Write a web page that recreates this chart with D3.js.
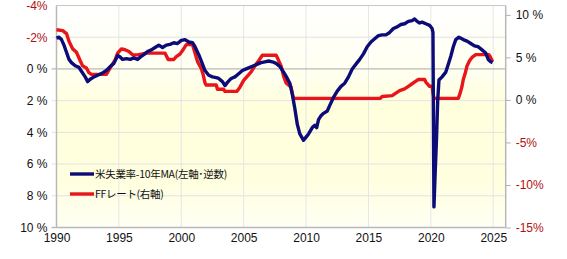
<!DOCTYPE html>
<html><head><meta charset="utf-8">
<script src="https://cdn.jsdelivr.net/npm/d3@7"></script>
<style>body{margin:0;background:#fff}svg{display:block}</style>
</head><body>
<svg id="c" width="567" height="259"></svg>
<script>
// Unemployment rate minus 10-year MA (left axis, inverted)
const unempYears = [1990.0,1990.2,1990.4,1990.6,1990.8,1991.0,1991.2,1991.5,1991.8,1992.0,1992.3,1992.5,1992.7,1993.0,1993.3,1993.6,1994.0,1994.3,1994.6,1994.9,1995.1,1995.3,1995.6,1995.9,1996.2,1996.5,1996.8,1997.0,1997.3,1997.6,1997.9,1998.2,1998.5,1998.8,1999.1,1999.4,1999.7,2000.0,2000.3,2000.6,2000.9,2001.1,2001.4,2001.7,2001.9,2002.2,2002.5,2002.8,2003.0,2003.3,2003.5,2003.7,2004.0,2004.3,2004.6,2004.9,2005.2,2005.5,2005.8,2006.1,2006.4,2006.7,2007.0,2007.3,2007.6,2007.9,2008.2,2008.5,2008.7,2008.9,2009.1,2009.3,2009.5,2009.8,2010.0,2010.2,2010.5,2010.7,2010.85,2011.0,2011.2,2011.4,2011.7,2011.9,2012.2,2012.5,2012.8,2013.1,2013.4,2013.7,2014.0,2014.3,2014.6,2014.9,2015.2,2015.5,2015.8,2016.1,2016.4,2016.7,2017.0,2017.3,2017.6,2017.9,2018.2,2018.5,2018.7,2018.9,2019.1,2019.3,2019.6,2019.9,2020.1,2020.17,2020.25,2020.35,2020.45,2020.55,2020.65,2020.9,2021.2,2021.4,2021.6,2021.8,2022.0,2022.25,2022.6,2022.9,2023.2,2023.5,2023.8,2024.1,2024.4,2024.6,2024.8,2024.95];
const unempGap = [-1.95,-2.0,-1.85,-1.5,-1.05,-0.6,-0.4,-0.2,-0.1,0.15,0.5,0.8,0.65,0.5,0.4,0.3,0.1,-0.15,-0.35,-0.85,-0.75,-0.6,-0.65,-0.6,-0.7,-0.6,-0.8,-0.9,-1.1,-1.2,-1.35,-1.5,-1.35,-1.5,-1.55,-1.65,-1.6,-1.8,-1.85,-1.7,-1.65,-1.4,-0.9,-0.3,0.1,0.4,0.5,0.55,0.6,0.8,1.05,0.85,0.6,0.5,0.3,0.1,0.0,-0.1,-0.2,-0.3,-0.4,-0.45,-0.5,-0.45,-0.35,-0.15,0.2,0.6,0.9,1.6,2.5,3.5,4.1,4.5,4.3,4.1,3.7,3.55,3.7,3.2,2.95,2.8,2.65,2.3,1.8,1.4,1.1,0.9,0.5,0.0,-0.3,-0.6,-0.95,-1.4,-1.7,-1.9,-2.1,-2.15,-2.15,-2.3,-2.55,-2.65,-2.8,-2.85,-3.0,-3.05,-3.15,-3.0,-2.9,-2.95,-2.85,-2.75,-2.55,-2.3,8.7,6.5,4.5,2.0,0.7,0.5,0.2,-0.3,-0.8,-1.4,-1.85,-2.0,-1.85,-1.75,-1.6,-1.45,-1.4,-1.2,-1.0,-0.6,-0.45,-0.4];
// Fed funds rate (right axis)
const ffYears = [1990.0,1990.5,1990.8,1991.0,1991.3,1991.6,1991.9,1992.1,1992.4,1992.6,1992.8,1994.0,1994.2,1994.4,1994.7,1994.9,1995.2,1995.5,1995.8,1996.1,1996.5,1997.2,1998.7,1998.8,1998.95,1999.4,1999.6,1999.9,2000.1,2000.4,2000.9,2001.1,2001.3,2001.6,2001.75,2001.9,2002.0,2002.8,2002.9,2003.4,2003.5,2004.45,2004.7,2005.0,2005.3,2005.6,2005.9,2006.2,2006.5,2007.6,2007.75,2008.0,2008.2,2008.4,2008.8,2008.95,2009.0,2015.95,2016.1,2016.9,2017.2,2017.5,2017.9,2018.2,2018.5,2018.8,2019.0,2019.5,2019.6,2019.9,2020.1,2020.2,2020.25,2022.2,2022.35,2022.5,2022.6,2022.75,2022.9,2023.1,2023.3,2023.6,2024.65,2024.75,2024.85,2024.95];
const ffRate = [8.25,8.15,7.8,6.9,6.0,5.6,4.6,4.0,3.75,3.2,3.0,3.0,3.5,4.0,4.7,5.5,6.0,5.9,5.7,5.3,5.3,5.5,5.5,5.2,4.75,4.75,5.1,5.4,5.8,6.5,6.5,5.5,4.5,3.7,3.0,2.0,1.75,1.75,1.25,1.25,1.0,1.0,1.5,2.3,2.8,3.3,4.0,4.6,5.25,5.25,4.8,4.0,2.8,2.0,1.5,0.4,0.18,0.18,0.4,0.5,0.8,1.1,1.3,1.6,1.9,2.2,2.4,2.4,2.1,1.6,1.6,0.6,0.18,0.18,0.8,1.6,2.4,3.1,4.0,4.6,5.0,5.33,5.33,5.1,4.8,4.5];
const xTicks = [1990,1995,2000,2005,2010,2015,2020,2025];
const leftTicks = [-4,-2,0,2,4,6,8,10];
const rightTicks = [10,5,0,-5,-10,-15];
const seriesNames = ["米失業率-10年MA(左軸･逆数)","FFレート(右軸)"];

const L=56.5, R=505.7, T=5.5, B=227.5;
const svg=d3.select("#c");
const x=d3.scaleLinear().domain([1990,2026]).range([L,R]);
const yL=d3.scaleLinear().domain([-4,10]).range([T,B]);
const yR=d3.scaleLinear().domain([11.1,-15]).range([T,B]);
const font="'Liberation Sans', Arial, sans-serif";
const jfont="'Noto Sans CJK JP', sans-serif";
const red="#B01010";

const defs=svg.append("defs");
const g=defs.append("linearGradient").attr("id","bg").attr("x1",0).attr("y1",0).attr("x2",0).attr("y2",1);
[[0,"#ffffff"],[0.3,"#fffff0"],[0.45,"#ffffdc"],[0.8,"#ffffe0"],[1,"#fffff4"]].forEach(s=>g.append("stop").attr("offset",s[0]).attr("stop-color",s[1]));
svg.append("rect").attr("x",L).attr("y",T).attr("width",R-L).attr("height",B-T).attr("fill","url(#bg)");

// grid
svg.append("g").selectAll("line").data(xTicks.slice(1)).join("line")
 .attr("x1",d=>x(d)).attr("x2",d=>x(d)).attr("y1",T).attr("y2",B).attr("stroke","#e6e6e6").attr("stroke-width",1);
svg.append("g").selectAll("line").data(leftTicks.filter(d=>d!==-4&&d!==10)).join("line")
 .attr("x1",L-5).attr("x2",R).attr("y1",d=>yL(d)).attr("y2",d=>yL(d))
 .attr("stroke",d=>d===0?"#a8a8a8":"#e2e2e2").attr("stroke-width",1);
// frame
svg.append("line").attr("x1",L).attr("x2",R).attr("y1",T).attr("y2",T).attr("stroke","#c8c8c8");
svg.append("line").attr("x1",L).attr("x2",L).attr("y1",T).attr("y2",B).attr("stroke","#b8b8b8").attr("stroke-width",1.5);
svg.append("line").attr("x1",R).attr("x2",R).attr("y1",T).attr("y2",B).attr("stroke","#b8b8b8").attr("stroke-width",1.5);
svg.append("line").attr("x1",L-5).attr("x2",R).attr("y1",B).attr("y2",B).attr("stroke","#b8b8b8").attr("stroke-width",1.5);

// axes
const fmtL=d=>d<0?d+"%":d+" %";
const ax=svg.append("g").attr("transform",`translate(0,${B})`).call(d3.axisBottom(x).tickValues(xTicks).tickFormat(d3.format("d")).tickSize(0).tickPadding(6));
ax.select(".domain").remove();
ax.selectAll("text").attr("font-family",font).attr("font-size",12).attr("fill","#111");
const ayl=svg.append("g").attr("transform",`translate(${L-9},0)`).call(d3.axisLeft(yL).tickValues(leftTicks).tickFormat(fmtL).tickSize(0).tickPadding(0));
ayl.select(".domain").remove();
ayl.selectAll("text").attr("font-family",font).attr("font-size",12).attr("fill",d=>d<0?red:"#111");
const ayr=svg.append("g").attr("transform",`translate(${R},0)`).call(d3.axisRight(yR).tickValues(rightTicks).tickFormat(fmtL).tickSize(5).tickPadding(5));
ayr.select(".domain").remove();
ayr.selectAll("line").attr("stroke","#b0b0b0");
ayr.selectAll("text").attr("font-family",font).attr("font-size",12).attr("fill",d=>d<0?red:"#111");

// lines
const ffData=ffYears.map((t,i)=>[t,ffRate[i]]);
const unData=unempYears.map((t,i)=>[t,unempGap[i]]);
svg.append("path").datum(ffData).attr("fill","none").attr("stroke","#e8161b").attr("stroke-width",3.4).attr("stroke-linejoin","round")
 .attr("d",d3.line().x(d=>x(d[0])).y(d=>yR(d[1])));
svg.append("path").datum(unData).attr("fill","none").attr("stroke","#0c0c78").attr("stroke-width",3.4).attr("stroke-linejoin","round")
 .attr("d",d3.line().x(d=>x(d[0])).y(d=>yL(d[1])));

// legend
const lg=svg.append("g");
const colors=["#0c0c78","#e8161b"];
seriesNames.forEach((n,i)=>{
  const yy=174+i*20;
  lg.append("line").attr("x1",70).attr("x2",94).attr("y1",yy).attr("y2",yy).attr("stroke",colors[i]).attr("stroke-width",3.4);
  lg.append("text").attr("x",95).attr("y",yy).attr("dy","0.35em").attr("font-family",jfont).attr("font-size",10.5).attr("fill","#111").attr("letter-spacing",-0.3).text(n);
});
</script>
</body></html>
